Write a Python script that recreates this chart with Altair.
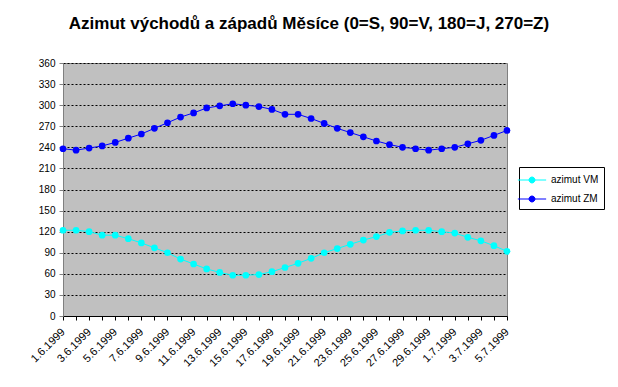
import altair as alt
import pandas as pd

dates = ["1.6.1999", "2.6.1999", "3.6.1999", "4.6.1999", "5.6.1999", "6.6.1999",
         "7.6.1999", "8.6.1999", "9.6.1999", "10.6.1999", "11.6.1999", "12.6.1999",
         "13.6.1999", "14.6.1999", "15.6.1999", "16.6.1999", "17.6.1999", "18.6.1999",
         "19.6.1999", "20.6.1999", "21.6.1999", "22.6.1999", "23.6.1999", "24.6.1999",
         "25.6.1999", "26.6.1999", "27.6.1999", "28.6.1999", "29.6.1999", "30.6.1999",
         "1.7.1999", "2.7.1999", "3.7.1999", "4.7.1999", "5.7.1999"]

vm = [122, 122, 120, 115, 115, 110, 104, 97, 90, 81, 74, 67, 62, 58, 58, 59, 63,
      69, 75, 82, 90, 96, 102, 108, 113, 119, 121, 122, 122, 120, 118, 112, 107, 100, 92]

zm = [238, 236, 239, 242, 247, 253, 259, 267, 275, 283, 289, 296, 299, 302, 300, 298, 294,
      287, 287, 281, 274, 267, 261, 255, 249, 244, 240, 238, 236, 238, 240, 245, 250, 257, 264]

series_names = ["azimut VM", "azimut ZM"]
series_colors = ["#00FFFF", "#0000FF"]
y_ticks = list(range(0, 361, 30))

rows = []
for i, d in enumerate(dates):
    rows.append({"i": i, "date": d, "series": series_names[0], "value": vm[i]})
    rows.append({"i": i, "date": d, "series": series_names[1], "value": zm[i]})
df = pd.DataFrame(rows)

label_js = "[" + ",".join("'" + d + "'" for d in dates) + "]"

font = "Liberation Sans"

x = alt.X(
    "i:Q",
    scale=alt.Scale(domain=[0, len(dates) - 1], nice=False, zero=False),
    axis=alt.Axis(
        values=list(range(len(dates))),
        labelExpr="datum.value % 2 == 0 ? " + label_js + "[datum.value] : ''",
        labelAngle=-45,
        labelAlign="right",
        labelBaseline="middle",
        labelOverlap=False,
        labelFlush=False,
        labelFont=font,
        labelFontSize=11,
        labelColor="black",
        labelPadding=10,
        tickSize=4,
        tickColor="black",
        domainColor="black",
        grid=False,
        title=None,
    ),
)

y = alt.Y(
    "value:Q",
    scale=alt.Scale(domain=[0, 360], nice=False),
    axis=alt.Axis(
        values=y_ticks,
        labelFont=font,
        labelFontSize=10,
        labelColor="black",
        labelPadding=4,
        tickSize=4,
        tickColor="#808080",
        domainColor="#808080",
        grid=True,
        gridColor="black",
        gridDash=[2, 2],
        gridWidth=1,
        title=None,
    ),
)

legend_symbol = "M-2,0L2,0M0.42,0A0.42,0.42 0 1,1 -0.42,0A0.42,0.42 0 1,1 0.42,0Z"

color = alt.Color(
    "series:N",
    scale=alt.Scale(domain=series_names, range=series_colors),
    legend=alt.Legend(
        title=None,
        orient="none",
        legendX=456,
        legendY=104,
        symbolType=legend_symbol,
        symbolSize=200,
        symbolStrokeWidth=1,
        labelFont=font,
        labelFontSize=10,
        labelColor="black",
        strokeColor="black",
        fillColor="white",
        padding=5,
        rowPadding=6,
        labelOffset=11,
    ),
)

base = alt.Chart(df).encode(x=x, y=y, color=color, detail="series:N")

lines = base.mark_line(strokeWidth=1)
points = base.mark_point(filled=True, size=45, opacity=1)

chart = (
    alt.layer(lines, points)
    .properties(
        width=444,
        height=253,
        autosize=alt.AutoSizeParams(type="none"),
        padding={"left": 55, "top": 55, "right": 103, "bottom": 63},
        title=alt.TitleParams(
            "Azimut východů a západů Měsíce (0=S, 90=V, 180=J, 270=Z)",
            font=font,
            fontSize=17,
            fontWeight="bold",
            color="black",
            anchor="middle",
            dx=24,
            offset=25,
        ),
        background="white",
    )
    .configure_view(fill="#C0C0C0", stroke="#808080", strokeWidth=1)
)

chart.save("out.html", embed_options={"renderer": "svg", "actions": False})
